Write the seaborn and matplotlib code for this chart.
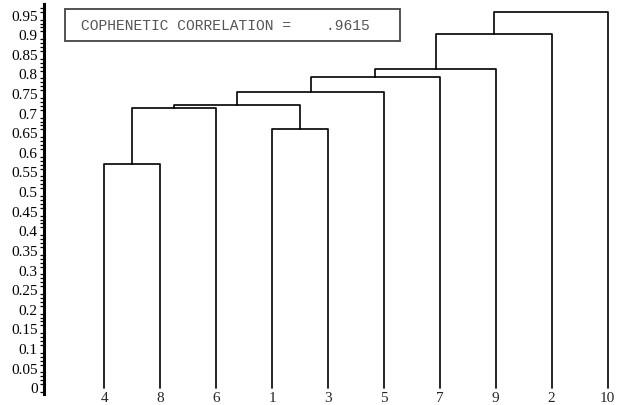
import numpy as np
import pandas as pd
import matplotlib
matplotlib.use("Agg")
import matplotlib.pyplot as plt
import seaborn as sns
from matplotlib.patches import Rectangle
from matplotlib.ticker import MultipleLocator, FormatStrFormatter

# ---- data ----
leaf_order = ["4", "8", "6", "1", "3", "5", "7", "9", "2", "10"]
merge_names = ["A", "B", "C", "D", "E", "F", "G", "H", "I"]
merge_left = ["4", "A", "1", "B", "D", "E", "F", "G", "H"]
merge_right = ["8", "6", "3", "C", "5", "7", "9", "2", "10"]
merge_heights = [0.572, 0.714, 0.661, 0.722, 0.756, 0.793, 0.813, 0.904, 0.960]
ytick_values = [0, 0.05, 0.1, 0.15, 0.2, 0.25, 0.3, 0.35, 0.4, 0.45, 0.5,
                0.55, 0.6, 0.65, 0.7, 0.75, 0.8, 0.85, 0.9, 0.95]
ytick_labels = ["0", "0.05", "0.1", "0.15", "0.2", "0.25", "0.3", "0.35", "0.4",
                "0.45", "0.5", "0.55", "0.6", "0.65", "0.7", "0.75", "0.8",
                "0.85", "0.9", "0.95"]
coph_text = "COPHENETIC CORRELATION =    .9615"

# ---- build dendrogram segments from the linkage ----
pos = {name: i for i, name in enumerate(leaf_order)}
height = {name: 0.0 for name in leaf_order}
rows = []
for name, l, r, h in zip(merge_names, merge_left, merge_right, merge_heights):
    xl, xr = pos[l], pos[r]
    hl, hr = height[l], height[r]
    for k, (x, y) in enumerate([(xl, hl), (xl, h), (xr, h), (xr, hr)]):
        rows.append({"merge": name, "order": k, "x": x, "y": y})
    pos[name] = (xl + xr) / 2
    height[name] = h
df = pd.DataFrame(rows)

# ---- plot ----
sns.set_style("white")
plt.rcParams["font.family"] = ["Liberation Serif", "DejaVu Serif"]

fig = plt.figure(figsize=(6.22, 4.05), dpi=100)
W, H = 622, 405
ax = fig.add_axes([44 / W, 1 - 394 / H, 1 - 44 / W, (394 - 4.3) / H])

sns.lineplot(data=df, x="x", y="y", units="merge", estimator=None, sort=False,
             color="black", lw=1.2, legend=False, ax=ax)

ax.set_xlim(-1.082, 9.258)
ax.set_ylim(-0.015, 0.979)

for s in ["top", "right", "bottom"]:
    ax.spines[s].set_visible(False)
ax.spines["left"].set_linewidth(2.2)
ax.spines["left"].set_color("black")

ax.set_yticks(ytick_values)
ax.set_yticklabels(ytick_labels)
ax.yaxis.set_minor_locator(MultipleLocator(0.01))
ax.tick_params(axis="y", which="major", direction="out", length=4, width=1,
               pad=0.5, labelsize=11, colors="black")
ax.tick_params(axis="y", which="minor", direction="out", length=3, width=0.9,
               left=True, colors="black")

ax.set_xticks(range(len(leaf_order)))
ax.set_xticklabels(leaf_order)
ax.tick_params(axis="x", which="both", length=0, pad=-1.5, labelsize=11)
ax.set_xlabel("")
ax.set_ylabel("")
ax.grid(False)

# text box
fig.patches.append(Rectangle((65 / W, 1 - 41 / H), 335 / W, 32 / H,
                             transform=fig.transFigure, facecolor="white",
                             edgecolor="#444444", lw=1.3, zorder=5))
fig.text(81 / W, 1 - 25.5 / H, coph_text, family="Liberation Mono",
         fontsize=10.5, color="#555555", va="center", ha="left", zorder=6)

fig.savefig("out.png", dpi=100, facecolor="white")
